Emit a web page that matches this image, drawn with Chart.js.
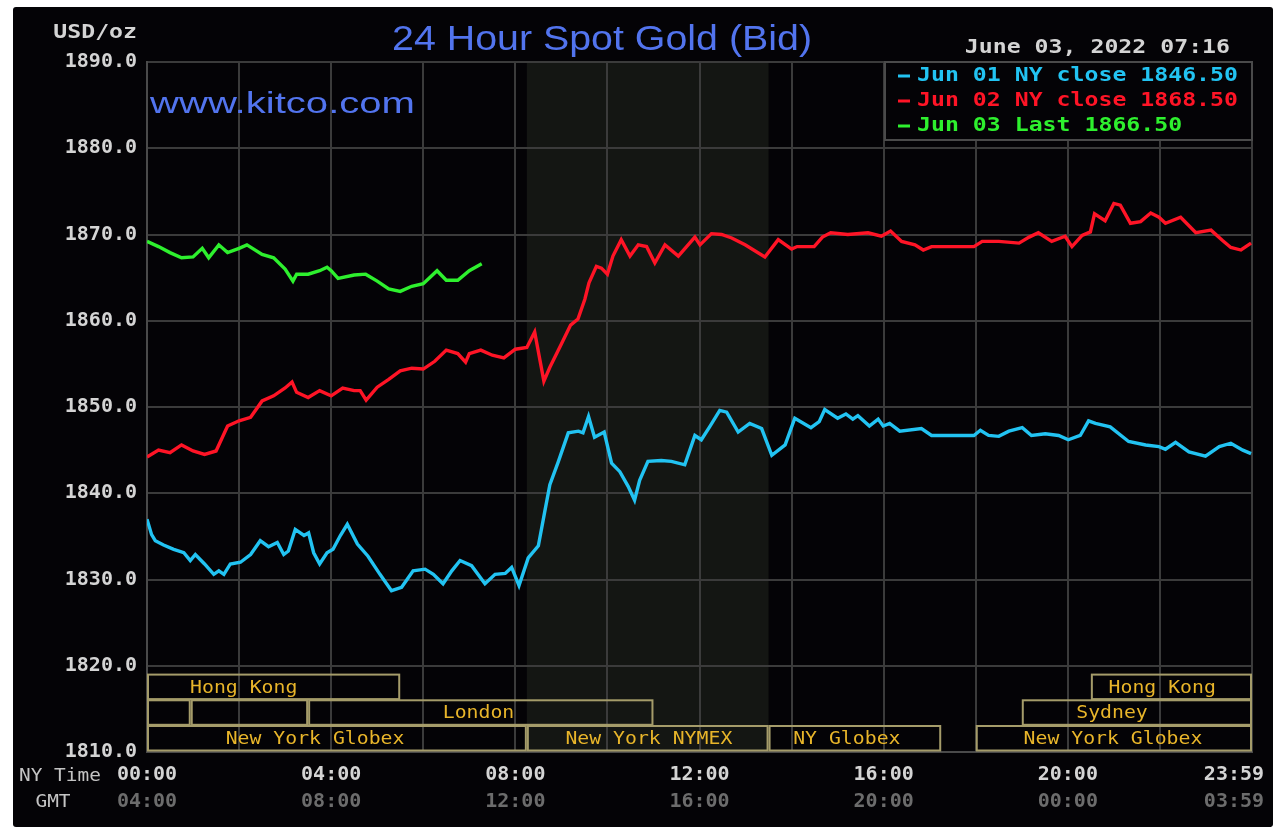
<!DOCTYPE html>
<html>
<head>
<meta charset="utf-8">
<title>24 Hour Spot Gold (Bid)</title>
<script src="https://cdn.jsdelivr.net/npm/chart.js@4.4.0/dist/chart.umd.min.js"></script>
<style>
  html, body { margin: 0; padding: 0; background: #ffffff; }
  #frame { position: absolute; left: 13px; top: 7px; width: 1260px; height: 820px; background: #040306; border-radius: 3px; }
  #wrap { position: absolute; left: 0; top: 0; width: 1286px; height: 834px; }
</style>
</head>
<body>
<div id="frame"></div>
<div id="wrap"><canvas id="goldChart" width="1286" height="834"></canvas></div>
<script>
// series, x in hours NY time
const blueHours = [0, 0.1, 0.18, 0.36, 0.58, 0.8, 0.94, 1.05, 1.25, 1.45, 1.56, 1.67, 1.81, 2.03, 2.25, 2.46, 2.64, 2.83, 2.97, 3.07, 3.22, 3.41, 3.51, 3.62, 3.75, 3.91, 4.04, 4.2, 4.35, 4.57, 4.8, 5.06, 5.31, 5.53, 5.78, 6.04, 6.22, 6.43, 6.62, 6.8, 7.05, 7.34, 7.56, 7.78, 7.92, 8.08, 8.28, 8.5, 8.64, 8.75, 8.93, 9.15, 9.37, 9.47, 9.59, 9.72, 9.93, 10.09, 10.27, 10.45, 10.59, 10.7, 10.88, 11.17, 11.39, 11.68, 11.9, 12.04, 12.22, 12.44, 12.59, 12.84, 13.09, 13.35, 13.57, 13.86, 14.07, 14.42, 14.6, 14.72, 15, 15.18, 15.33, 15.44, 15.69, 15.88, 15.99, 16.13, 16.35, 16.82, 17.04, 17.96, 18.1, 18.28, 18.5, 18.72, 19.01, 19.21, 19.51, 19.8, 20.01, 20.27, 20.45, 20.6, 20.92, 21.32, 21.69, 21.98, 22.12, 22.34, 22.63, 22.99, 23.29, 23.54, 23.8, 23.98];
const blueValues = [1837.0, 1835.2, 1834.5, 1834.0, 1833.5, 1833.1, 1832.2, 1832.9, 1831.8, 1830.6, 1831.0, 1830.6, 1831.8, 1832.0, 1832.9, 1834.5, 1833.8, 1834.3, 1832.9, 1833.3, 1835.8, 1835.1, 1835.4, 1833.1, 1831.8, 1833.1, 1833.5, 1835.1, 1836.4, 1834.1, 1832.7, 1830.6, 1828.7, 1829.1, 1831.0, 1831.2, 1830.6, 1829.5, 1831.0, 1832.2, 1831.6, 1829.5, 1830.6, 1830.7, 1831.4, 1829.3, 1832.5, 1833.9, 1837.9, 1841.0, 1843.6, 1847.0, 1847.2, 1847.0, 1848.9, 1846.5, 1847.1, 1843.5, 1842.5, 1840.8, 1839.2, 1841.5, 1843.7, 1843.8, 1843.7, 1843.3, 1846.7, 1846.2, 1847.7, 1849.6, 1849.4, 1847.1, 1848.1, 1847.5, 1844.4, 1845.6, 1848.7, 1847.6, 1848.3, 1849.7, 1848.7, 1849.2, 1848.6, 1849.0, 1847.8, 1848.6, 1847.8, 1848.1, 1847.2, 1847.5, 1846.7, 1846.7, 1847.3, 1846.7, 1846.6, 1847.2, 1847.6, 1846.7, 1846.9, 1846.7, 1846.2, 1846.7, 1848.4, 1848.1, 1847.7, 1846.0, 1845.6, 1845.4, 1845.1, 1845.9, 1844.8, 1844.3, 1845.4, 1845.8, 1845.0, 1844.6];

const redHours = [0, 0.25, 0.5, 0.75, 1, 1.25, 1.5, 1.75, 2, 2.25, 2.5, 2.75, 3, 3.15, 3.25, 3.5, 3.75, 4, 4.25, 4.5, 4.63, 4.76, 5, 5.25, 5.5, 5.75, 6, 6.25, 6.5, 6.75, 6.92, 7, 7.25, 7.5, 7.75, 8, 8.25, 8.42, 8.62, 8.75, 9, 9.2, 9.36, 9.51, 9.6, 9.76, 9.87, 10, 10.12, 10.3, 10.49, 10.67, 10.85, 11.03, 11.25, 11.54, 11.9, 12.01, 12.26, 12.48, 12.7, 12.99, 13.42, 13.71, 14, 14.12, 14.49, 14.67, 14.85, 15.22, 15.66, 15.95, 16.15, 16.39, 16.68, 16.86, 17.04, 17.96, 18.14, 18.5, 18.94, 19.16, 19.36, 19.65, 19.94, 20.09, 20.31, 20.49, 20.58, 20.81, 21, 21.14, 21.36, 21.58, 21.8, 21.98, 22.12, 22.45, 22.78, 23.11, 23.36, 23.54, 23.76, 23.98];
const redValues = [1844.2, 1845.0, 1844.7, 1845.6, 1844.9, 1844.5, 1844.9, 1847.8, 1848.4, 1848.8, 1850.7, 1851.3, 1852.2, 1852.9, 1851.7, 1851.1, 1851.9, 1851.3, 1852.2, 1851.9, 1851.9, 1850.8, 1852.3, 1853.2, 1854.2, 1854.5, 1854.4, 1855.3, 1856.6, 1856.2, 1855.2, 1856.2, 1856.6, 1856.0, 1855.7, 1856.7, 1856.9, 1858.7, 1853.0, 1854.6, 1857.3, 1859.5, 1860.2, 1862.5, 1864.4, 1866.3, 1866.1, 1865.4, 1867.5, 1869.4, 1867.5, 1868.8, 1868.6, 1866.7, 1868.8, 1867.5, 1869.7, 1868.8, 1870.1, 1870.0, 1869.6, 1868.8, 1867.4, 1869.4, 1868.3, 1868.6, 1868.6, 1869.7, 1870.2, 1870.0, 1870.2, 1869.8, 1870.4, 1869.2, 1868.8, 1868.2, 1868.6, 1868.6, 1869.2, 1869.2, 1869.0, 1869.7, 1870.2, 1869.2, 1869.8, 1868.6, 1869.9, 1870.3, 1872.4, 1871.6, 1873.6, 1873.4, 1871.3, 1871.5, 1872.5, 1872.0, 1871.3, 1872.0, 1870.2, 1870.5, 1869.3, 1868.5, 1868.2, 1869.0];

const greenHours = [0, 0.25, 0.5, 0.75, 1, 1.2, 1.34, 1.56, 1.75, 2, 2.17, 2.5, 2.75, 3, 3.17, 3.25, 3.5, 3.75, 3.91, 4, 4.15, 4.5, 4.75, 5, 5.25, 5.5, 5.75, 6, 6.3, 6.5, 6.75, 7, 7.27];
const greenValues = [1869.2, 1868.6, 1867.9, 1867.3, 1867.4, 1868.4, 1867.3, 1868.8, 1867.9, 1868.4, 1868.8, 1867.7, 1867.3, 1866.0, 1864.6, 1865.4, 1865.4, 1865.8, 1866.2, 1865.8, 1864.9, 1865.3, 1865.4, 1864.6, 1863.7, 1863.4, 1864.0, 1864.3, 1865.8, 1864.7, 1864.7, 1865.8, 1866.6];

const seriesLabels = ['Jun 01 NY close 1846.50', 'Jun 02 NY close 1868.50', 'Jun 03 Last 1866.50'];
const seriesColors = ['#22c3f2', '#ff1426', '#2ef02e'];

const nyTickLabels = ['00:00', '04:00', '08:00', '12:00', '16:00', '20:00', '23:59   '];
const gmtTickLabels = ['04:00', '08:00', '12:00', '16:00', '20:00', '00:00', '03:59   '];

// trading sessions: row 0 = top strip, label hour = where the name sits
const sessionNames = ['Hong Kong', 'Hong Kong', '', '', 'London', 'Sydney', 'New York Globex', 'New York NYMEX', 'NY Globex', 'New York Globex'];
const sessionStart = [0, 20.5, 0, 0.95, 3.5, 19, 0, 8.25, 13.5, 18];
const sessionEnd = [5.5, 24, 0.95, 3.5, 11, 24, 8.25, 13.5, 17.25, 24];
const sessionLabelHour = [2.1, 22.05, 0, 0, 7.2, 20.96, 3.65, 10.9, 15.2, 20.98];
const sessionRow = [0, 0, 1, 1, 1, 1, 2, 2, 2, 2];
const nymexBand = [8.25, 13.5];

const MONO = '"DejaVu Sans Mono", "Liberation Mono", monospace';
const SANS = '"Liberation Sans", Arial, sans-serif';

function toPoints(xs, ys) {
  return xs.map((x, i) => ({ x: x, y: ys[i] }));
}

// draws text squeezed/stretched horizontally by sx
function stretchText(ctx, text, x, y, sx, align) {
  const w = ctx.measureText(text).width * sx;
  let left = x;
  if (align === 'right') left = x - w;
  if (align === 'center') left = x - w / 2;
  ctx.save();
  ctx.translate(left, y);
  ctx.scale(sx, 1);
  ctx.textAlign = 'left';
  ctx.fillText(text, 0, 0);
  ctx.restore();
}

const kitcoDecor = {
  id: 'kitcoDecor',
  beforeDraw(chart) {
    const { ctx, chartArea: a, scales } = chart;
    const x0 = scales.x.getPixelForValue(nymexBand[0]);
    const x1 = scales.x.getPixelForValue(nymexBand[1]);
    ctx.save();
    ctx.fillStyle = '#141613';
    ctx.fillRect(x0, a.top, x1 - x0, a.bottom - a.top);
    ctx.restore();
  },
  beforeDatasetsDraw(chart) {
    const { ctx, chartArea: a, scales } = chart;
    ctx.save();
    ctx.lineWidth = 2;
    ctx.strokeStyle = '#a59c6a';
    ctx.fillStyle = '#e8b52a';
    ctx.font = '18px ' + MONO;
    ctx.textBaseline = 'middle';
    sessionNames.forEach((name, i) => {
      const r = sessionRow[i];
      const bottom = a.bottom - 1.5 - (2 - r) * 25.7;
      const top = bottom - 24.5;
      const left = scales.x.getPixelForValue(sessionStart[i]);
      const right = scales.x.getPixelForValue(sessionEnd[i]) - 1;
      ctx.strokeRect(left + 1, top, right - left - 1, bottom - top);
      if (name) {
        const cx = scales.x.getPixelForValue(sessionLabelHour[i]);
        stretchText(ctx, name, cx, (top + bottom) / 2 + 1, 1.1, 'center');
      }
    });
    ctx.restore();
  },
  afterDatasetsDraw(chart) {
    const { ctx, chartArea: a } = chart;
    // legend box in the top right corner
    const left = a.right - 367;
    const top = a.top;
    ctx.save();
    ctx.fillStyle = '#040306';
    ctx.fillRect(left, top, a.right - left, 78);
    ctx.strokeStyle = '#4a4a4a';
    ctx.lineWidth = 2;
    ctx.strokeRect(left, top, a.right - left, 78);
    ctx.font = 'bold 19px ' + MONO;
    ctx.textBaseline = 'middle';
    seriesLabels.forEach((label, i) => {
      const y = top + 14 + i * 25;
      ctx.fillStyle = seriesColors[i];
      ctx.fillRect(left + 13, y - 1.5, 12, 3);
      stretchText(ctx, label, left + 32, y, 1.22, 'left');
    });
    ctx.restore();
  },
  afterDraw(chart) {
    const { ctx } = chart;
    ctx.save();
    ctx.textBaseline = 'middle';
    ctx.fillStyle = '#5274ee';
    ctx.font = '35px ' + SANS;
    let w = ctx.measureText('24 Hour Spot Gold (Bid)').width;
    stretchText(ctx, '24 Hour Spot Gold (Bid)', 602, 40, 420 / w, 'center');
    ctx.font = '30px ' + SANS;
    w = ctx.measureText('www.kitco.com').width;
    stretchText(ctx, 'www.kitco.com', 150, 105, 265 / w, 'left');

    ctx.fillStyle = '#d4d4d4';
    ctx.font = 'bold 19px ' + MONO;
    stretchText(ctx, 'USD/oz', 137, 33, 1.22, 'right');
    stretchText(ctx, 'June 03, 2022 07:16', 1230, 48, 1.22, 'right');

    ctx.fillStyle = '#c4c4c4';
    ctx.font = '18px ' + MONO;
    stretchText(ctx, 'NY Time', 19, 776, 1.08, 'left');
    stretchText(ctx, 'GMT', 53, 802, 1.08, 'center');
    ctx.restore();
  }
};

const ctx = document.getElementById('goldChart').getContext('2d');
const goldChart = new Chart(ctx, {
  type: 'line',
  data: {
    datasets: [
      { label: seriesLabels[0], data: toPoints(blueHours, blueValues), borderColor: seriesColors[0] },
      { label: seriesLabels[1], data: toPoints(redHours, redValues), borderColor: seriesColors[1] },
      { label: seriesLabels[2], data: toPoints(greenHours, greenValues), borderColor: seriesColors[2] }
    ]
  },
  options: {
    responsive: false,
    animation: false,
    layout: { padding: { top: 62, right: 34, left: 0, bottom: 0 } },
    elements: {
      line: { borderWidth: 3.4, tension: 0 },
      point: { radius: 0, hoverRadius: 0 }
    },
    plugins: {
      legend: { display: false },
      tooltip: { enabled: false }
    },
    scales: {
      x: {
        type: 'linear',
        position: 'bottom',
        min: 0,
        max: 24,
        afterFit(s) { s.height = 36; s.paddingRight = 0; },
        grid: { color: '#3b3b3b', lineWidth: 2, drawTicks: false },
        border: { color: '#4a4a4a', width: 2 },
        ticks: {
          stepSize: 2,
          autoSkip: false,
          maxRotation: 0,
          padding: 0,
          color: '#d4d4d4',
          font: { family: MONO, size: 20, weight: 'bold', lineHeight: '46px' },
          callback: (v) => (v % 4 === 0 ? nyTickLabels[v / 4] : '')
        }
      },
      x2: {
        type: 'linear',
        position: 'bottom',
        min: 0,
        max: 24,
        afterFit(s) { s.height = 46; s.paddingRight = 0; },
        grid: { display: false, drawTicks: false },
        border: { display: false },
        ticks: {
          stepSize: 4,
          autoSkip: false,
          maxRotation: 0,
          padding: 0,
          color: '#6c6c6c',
          font: { family: MONO, size: 20, weight: 'bold', lineHeight: '28px' },
          callback: (v) => gmtTickLabels[v / 4]
        }
      },
      y: {
        min: 1810,
        max: 1890,
        afterFit(s) { s.width = 147; },
        grid: { color: '#3b3b3b', lineWidth: 2, drawTicks: false },
        border: { color: '#4a4a4a', width: 2 },
        ticks: {
          stepSize: 10,
          padding: 10,
          color: '#d4d4d4',
          font: { family: MONO, size: 20, weight: 'bold' },
          callback: (v) => v.toFixed(1)
        }
      }
    }
  },
  plugins: [kitcoDecor]
});
</script>
</body>
</html>
